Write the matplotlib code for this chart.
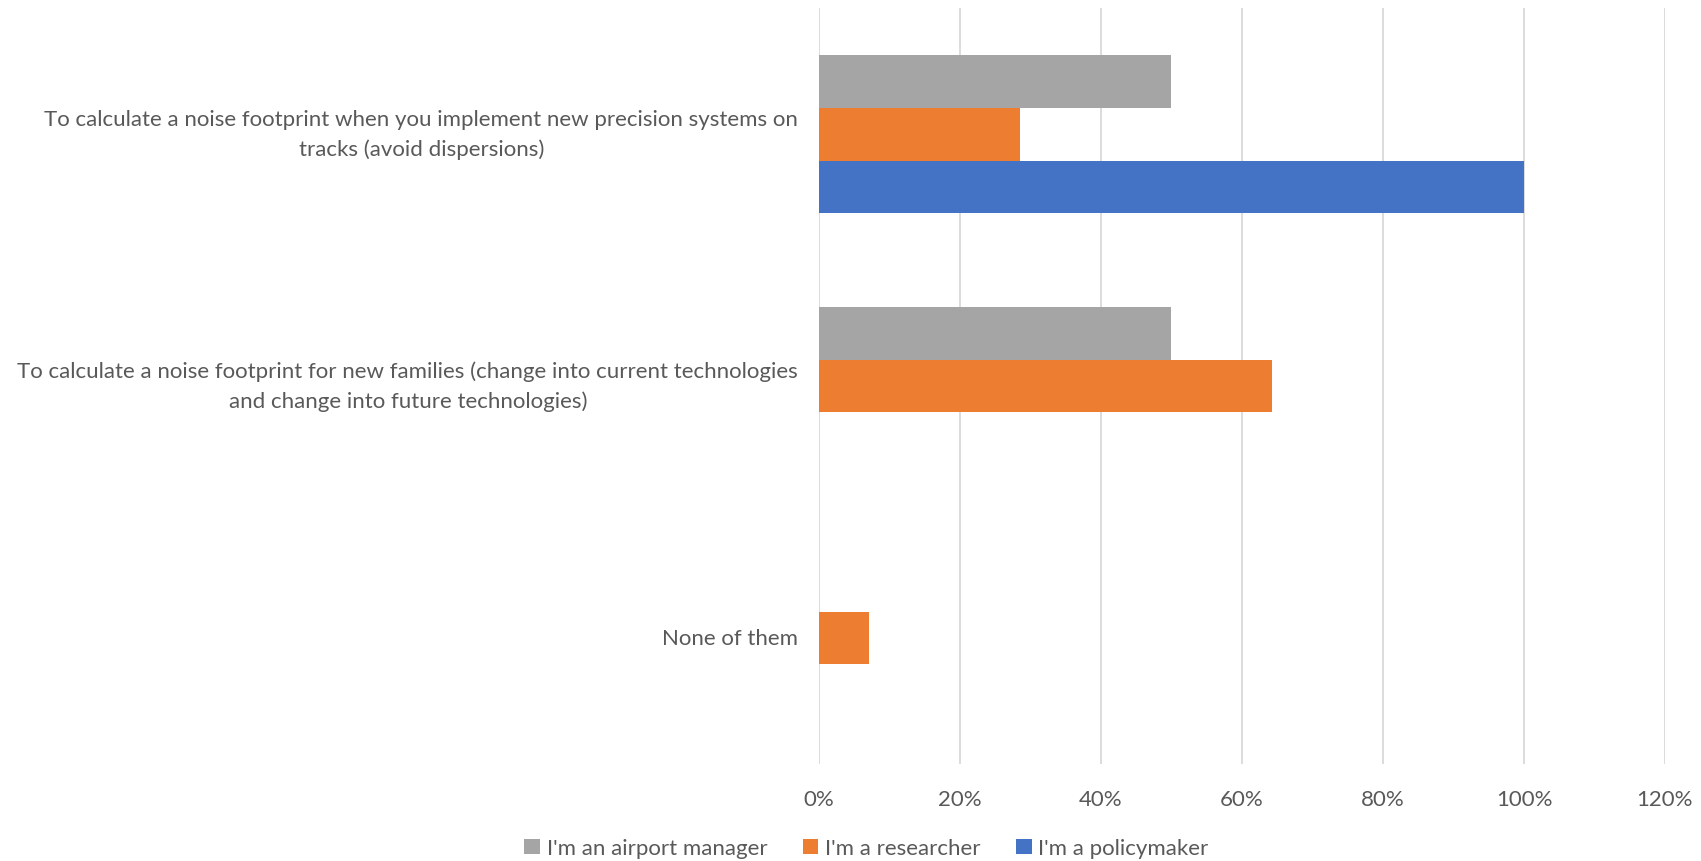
import numpy as np
import matplotlib.pyplot as plt
from matplotlib.ticker import PercentFormatter

plt.rcParams["font.family"] = ["Lato", "DejaVu Sans"]

categories = [
    "To calculate a noise footprint when you implement new precision systems on\ntracks (avoid dispersions)",
    "To calculate a noise footprint for new families (change into current technologies\nand change into future technologies)",
    "None of them",
]
series = ["I'm an airport manager", "I'm a researcher", "I'm a policymaker"]
airport_manager = [50.0, 50.0, 0.0]
researcher = [28.57, 64.29, 7.14]
policymaker = [100.0, 0.0, 0.0]

colors = ["#a5a5a5", "#ed7d31", "#4472c4"]
values = [airport_manager, researcher, policymaker]

fig = plt.figure(figsize=(17.01, 8.62), dpi=100)
ax = fig.add_axes([0.4815, 0.1125, 0.4973, 0.877])

y = np.arange(len(categories))
h = 0.21
for i, (name, vals) in enumerate(zip(series, values)):
    ax.barh(y + (i - 1) * h, vals, height=h, color=colors[i], label=name, zorder=3)

ax.set_ylim(2.5, -0.5)
ax.set_xlim(0, 120)
ax.set_xticks(np.arange(0, 121, 20))
ax.xaxis.set_major_formatter(PercentFormatter(decimals=0))
ax.set_yticks(y)
ax.set_yticklabels(categories, ha="right", va="center", multialignment="center",
                   linespacing=1.55)
ax.tick_params(axis="y", length=0, pad=15, labelsize=16, labelcolor="#595959")
ax.tick_params(axis="x", length=0, pad=18, labelsize=16, labelcolor="#595959")
ax.grid(axis="x", color="#d9d9d9", linewidth=1.3, zorder=0)
for s in ax.spines.values():
    s.set_visible(False)

ax.legend(loc="upper center", bbox_to_anchor=(0.056, -0.072), ncol=3, frameon=False,
          fontsize=16, labelcolor="#595959", handlelength=0.7, handleheight=0.7,
          handletextpad=0.3, columnspacing=1.6)

fig.savefig("out.png", dpi=100)
